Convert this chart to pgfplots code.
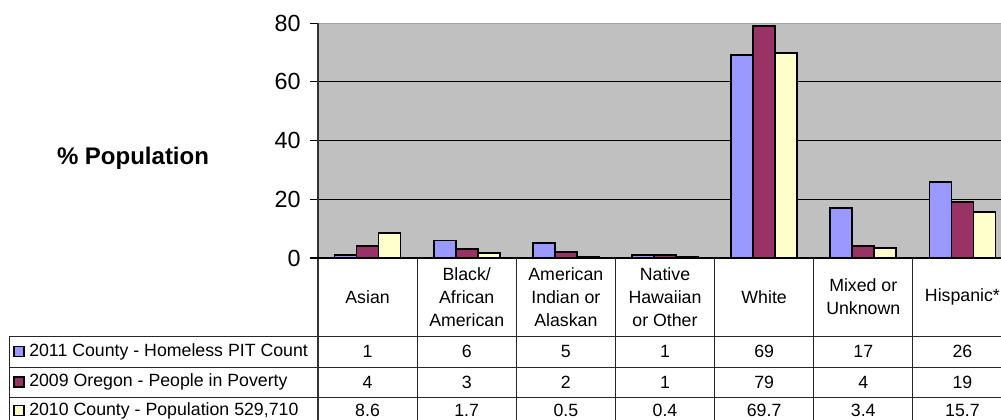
\documentclass[border=0pt]{standalone}
\usepackage{pgfplots}
\pgfplotsset{compat=1.18}
\usepackage{fontspec}
\setmainfont{Liberation Sans}
\definecolor{cblue}{HTML}{9999FF}
\definecolor{cmaroon}{HTML}{993366}
\definecolor{cyellow}{HTML}{FFFFCC}
\definecolor{plotbg}{HTML}{C0C0C0}
\newcommand{\tfont}{\fontsize{13.3}{17.3}\selectfont}
\begin{document}
\begin{tikzpicture}
\useasboundingbox (0,0) rectangle (750.75pt,-314.25pt);
\clip (0,0) rectangle (750.75pt,-314.25pt);
\begin{axis}[
  at={(238.5pt,-193.5pt)}, anchor=south west,
  scale only axis, width=520.5pt, height=176.25pt,
  xmin=-0.5, xmax=6.5, ymin=0, ymax=80,
  ybar=0pt, bar width=0.222,
  axis background/.style={fill=plotbg},
  axis line style={draw=none},
  ytick={0,20,40,60,80}, ytick pos=left,
  tick align=outside, major tick length=6pt,
  tick style={black, line width=0.75pt},
  ymajorgrids, grid style={black, line width=0.75pt},
  xtick=\empty,
  /pgf/number format/assume math mode=true,
  yticklabel style={font=\fontsize{17.5}{20}\selectfont, xshift=-3.5pt},
  every axis plot/.append style={draw=black, line width=1.3pt},
  clip=false,
]
\addplot[fill=cblue] coordinates {(0,1) (1,6) (2,5) (3,1) (4,69) (5,17) (6,26)};
\addplot[fill=cmaroon] coordinates {(0,4) (1,3) (2,2) (3,1) (4,79) (5,4) (6,19)};
\addplot[fill=cyellow] coordinates {(0,8.6) (1,1.7) (2,0.5) (3,0.4) (4,69.7) (5,3.4) (6,15.7)};
\end{axis}
\begin{scope}[x=0.75pt,y=-0.75pt]
  \draw[gray!70, line width=0.75pt] (318,23) -- (1015,23);
  \draw[black!80, line width=0.9pt] (318,23) -- (318,440);
  \draw[black, line width=0.9pt] (310,258) -- (1015,258);
  \foreach \yy in {336,367,397} \draw[black!85, line width=0.75pt] (9,\yy) -- (1015,\yy);
  \draw[black!85, line width=0.75pt] (9,336) -- (9,440);
  \foreach \k in {1,...,7} \draw[black!85, line width=0.75pt] ({318+99.14*\k},258) -- ({318+99.14*\k},440);
  \foreach \k/\lab in {0/Asian, 1/{Black/\\African\\American}, 2/{American\\Indian or\\Alaskan}, 3/{Native\\Hawaiian\\or Other}, 4/White, 5/{Mixed or\\Unknown}, 6/{Hispanic*}}
    \node[align=center, font=\tfont, inner sep=0pt] at ({318+99.14*(\k+0.5)},297) {\lab};
  \foreach \k/\a/\b/\c in {0/1/4/8.6, 1/6/3/1.7, 2/5/2/0.5, 3/1/1/0.4, 4/69/79/69.7, 5/17/4/3.4, 6/26/19/15.7} {
    \node[font=\tfont, inner sep=0pt] at ({318+99.14*(\k+0.5)},351.5) {\a};
    \node[font=\tfont, inner sep=0pt] at ({318+99.14*(\k+0.5)},382) {\b};
    \node[font=\tfont, inner sep=0pt] at ({318+99.14*(\k+0.5)},410.5) {\c};
  }
  \foreach \yy/\col/\txt in {351.5/cblue/{2011 County - Homeless PIT Count}, 382/cmaroon/{2009 Oregon - People in Poverty}, 410.5/cyellow/{2010 County - Population 529,710}} {
    \draw[fill=\col, draw=black, line width=0.9pt] (14,\yy-5) rectangle (24,\yy+5);
    \node[font=\tfont, anchor=west, inner sep=0pt] at (29,\yy) {\txt};
  }
  \node[font=\bfseries\fontsize{18}{21}\selectfont] at (133,158) {\% Population};
\end{scope}
\end{tikzpicture}
\end{document}
